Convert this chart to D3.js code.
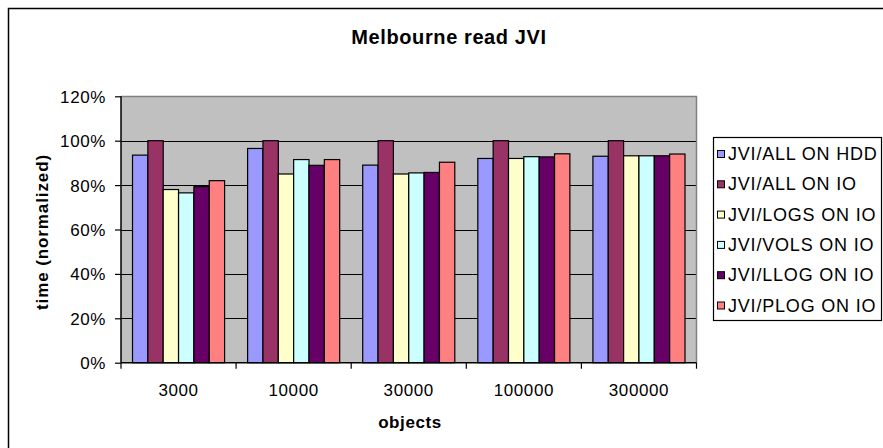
<!DOCTYPE html>
<html><head><meta charset="utf-8">
<script src="https://cdn.jsdelivr.net/npm/d3@7"></script>
<style>body{margin:0;background:#fff}svg{display:block;font-family:"Liberation Sans",Arial,sans-serif}</style>
</head><body><svg id="c" width="883" height="448"></svg>
<script>
const categories = ["3000","10000","30000","100000","300000"];
const seriesNames = ["JVI/ALL ON HDD","JVI/ALL ON IO","JVI/LOGS ON IO","JVI/VOLS ON IO","JVI/LLOG ON IO","JVI/PLOG ON IO"];
const seriesColors = ["#9999FF","#993366","#FFFFCC","#CCFFFF","#660066","#FF8080"];
const allOnHdd  = [0.935, 0.965, 0.89, 0.92, 0.93];
const allOnIo   = [1.00, 1.00, 1.00, 1.00, 1.00];
const logsOnIo  = [0.78, 0.85, 0.85, 0.92, 0.932];
const volsOnIo  = [0.765, 0.915, 0.855, 0.928, 0.932];
const llogOnIo  = [0.793, 0.889, 0.857, 0.927, 0.932];
const plogOnIo  = [0.82, 0.915, 0.903, 0.941, 0.94];
const yTicks = [0, 0.2, 0.4, 0.6, 0.8, 1.0, 1.2];
const seriesValues = [allOnHdd, allOnIo, logsOnIo, volsOnIo, llogOnIo, plogOnIo];

const svg = d3.select("#c");
const L = 121, R = 696.5, T = 96.3, B = 362.7;

// outer border
svg.append("rect").attr("x",8.5).attr("y",8.5).attr("width",900).attr("height",500)
  .attr("fill","#fff").attr("stroke","#000").attr("stroke-width",1.5);

const x0 = d3.scaleBand().domain(categories).range([L,R]).paddingInner(0).paddingOuter(0);
const x1 = d3.scaleBand().domain(seriesNames).range([0,x0.bandwidth()]).paddingInner(0).paddingOuter(0.75);
const y = d3.scaleLinear().domain([0,1.2]).range([B,T]);

// plot area
svg.append("rect").attr("x",L).attr("y",T).attr("width",R-L).attr("height",B-T).attr("fill","#C0C0C0");
// gridlines
svg.append("g").selectAll("line").data(yTicks.filter(d=>d>0 && d<1.2)).join("line")
  .attr("x1",L).attr("x2",R).attr("y1",d=>Math.round(y(d))+0.5).attr("y2",d=>Math.round(y(d))+0.5)
  .attr("stroke","#000").attr("stroke-width",1);
// gray top/right border
svg.append("path").attr("d",`M${L},${Math.round(T)+0.5}H${R}V${B}`).attr("fill","none").attr("stroke","#808080").attr("stroke-width",1.5);

// bars
const data = [];
categories.forEach((c,ci)=>seriesNames.forEach((s,si)=>data.push({c,s,si,v:seriesValues[si][ci]})));
svg.append("g").selectAll("rect").data(data).join("rect")
  .attr("x",d=>x0(d.c)+x1(d.s)).attr("width",x1.bandwidth())
  .attr("y",d=>y(d.v)).attr("height",d=>B-y(d.v))
  .attr("fill",d=>seriesColors[d.si]).attr("stroke","#000").attr("stroke-width",1.2);

// y axis
const yAxis = d3.axisLeft(y).tickValues(yTicks).tickFormat(d=>Math.round(d*100)+"%").tickSize(6).tickPadding(9);
const gy = svg.append("g").attr("transform",`translate(${L},0)`).call(yAxis);
gy.select(".domain").attr("stroke","#000").attr("stroke-width",1.5).attr("d",`M0,${T}V${B}`);
gy.selectAll(".tick line").attr("stroke","#000").attr("stroke-width",1.2);
gy.selectAll("text").attr("font-size",17).attr("letter-spacing",0.6).attr("fill","#000")
  .attr("font-family","'Liberation Sans',Arial,sans-serif").attr("dy","0.35em");

// x axis
const gx = svg.append("g").attr("transform",`translate(0,${B})`);
gx.append("line").attr("x1",L).attr("x2",R).attr("y1",0).attr("y2",0).attr("stroke","#000").attr("stroke-width",1.5);
const bounds = categories.map(c=>x0(c)).concat([R]);
gx.selectAll("line.t").data(bounds).join("line").attr("class","t")
  .attr("x1",d=>d).attr("x2",d=>d).attr("y1",0).attr("y2",6).attr("stroke","#000").attr("stroke-width",1.2);
gx.selectAll("text").data(categories).join("text")
  .attr("x",d=>x0(d)+x0.bandwidth()/2).attr("y",33).attr("text-anchor","middle")
  .attr("font-size",17).attr("letter-spacing",0.6).text(d=>d);

// titles
svg.append("text").attr("x",449).attr("y",43.5).attr("text-anchor","middle")
  .attr("font-size",20).attr("font-weight","bold").attr("letter-spacing",0.6).text("Melbourne read JVI");
svg.append("text").attr("x",410).attr("y",428).attr("text-anchor","middle")
  .attr("font-size",17).attr("font-weight","bold").attr("letter-spacing",0.6).text("objects");
svg.append("text").attr("transform","translate(47.5,232) rotate(-90)").attr("text-anchor","middle")
  .attr("font-size",17).attr("font-weight","bold").attr("letter-spacing",0.9).text("time (normalized)");

// legend
const lg = svg.append("g");
lg.append("rect").attr("x",713.5).attr("y",137.5).attr("width",168).attr("height",183)
  .attr("fill","#fff").attr("stroke","#000").attr("stroke-width",1.2);
const items = lg.selectAll("g.it").data(seriesNames).join("g").attr("class","it")
  .attr("transform",(d,i)=>`translate(0,${160+i*30.3})`);
items.append("rect").attr("x",717.5).attr("y",-9.5).attr("width",7).attr("height",7)
  .attr("fill",(d,i)=>seriesColors[i]).attr("stroke","#000").attr("stroke-width",1);
items.append("text").attr("x",728).attr("y",0).attr("font-size",18).attr("letter-spacing",0.8).text(d=>d);
</script></body></html>
